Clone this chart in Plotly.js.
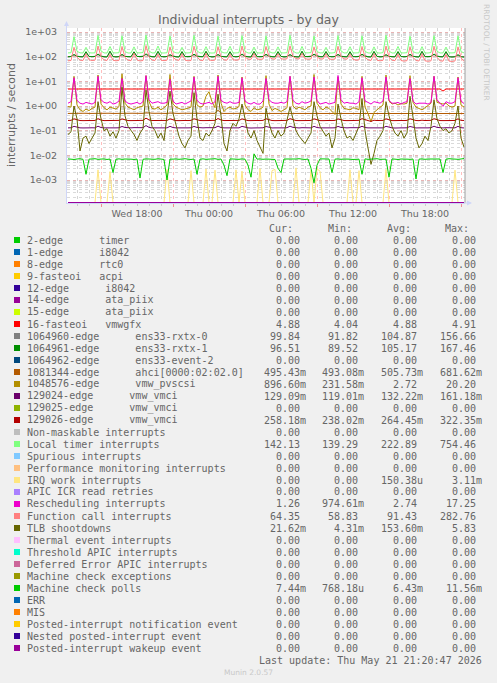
<!DOCTYPE html>
<html><head><meta charset="utf-8">
<script src="https://cdn.plot.ly/plotly-3.0.1.min.js"></script>
<style>html,body{margin:0;padding:0;background:#F0F0F0;overflow:hidden}#chart{width:497px;height:683px}</style>
</head><body><div id="chart"></div>
<script>
// ---------------- data ----------------
const startTime = '2026-05-20T12:15:00Z';   // first 15-minute sample
const stepMinutes = 15;
const zeroTimes = ['2026-05-20 12:15', '2026-05-21 21:15'];
const zeroValues = [0, 0];
const xTickStart = '2026-05-20 00:00';
const xRangeDates = ['2026-05-20 12:10', '2026-05-21 21:20'];
const yTickValues = [1e-3, 1e-2, 1e-1, 1e0, 1e1, 1e2, 1e3];
const yTickLabels = ['1e-03', '1e-02', '1e-01', '1e+00', '1e+01', '1e+02', '1e+03'];

const seriesLabels = [
  '2-edge      timer', '1-edge      i8042', '8-edge      rtc0', '9-fasteoi   acpi',
  '12-edge      i8042', '14-edge      ata_piix', '15-edge      ata_piix', '16-fasteoi   vmwgfx',
  '1064960-edge      ens33-rxtx-0', '1064961-edge      ens33-rxtx-1', '1064962-edge      ens33-event-2',
  '1081344-edge      ahci[0000:02:02.0]', '1048576-edge      vmw_pvscsi',
  '129024-edge      vmw_vmci', '129025-edge      vmw_vmci', '129026-edge      vmw_vmci',
  'Non-maskable interrupts', 'Local timer interrupts', 'Spurious interrupts',
  'Performance monitoring interrupts', 'IRQ work interrupts', 'APIC ICR read retries',
  'Rescheduling interrupts', 'Function call interrupts', 'TLB shootdowns',
  'Thermal event interrupts', 'Threshold APIC interrupts', 'Deferred Error APIC interrupts',
  'Machine check exceptions', 'Machine check polls', 'ERR', 'MIS',
  'Posted-interrupt notification event', 'Nested posted-interrupt event', 'Posted-interrupt wakeup event'
];
const curValues = ['0.00','0.00','0.00','0.00','0.00','0.00','0.00','4.88','99.84','96.51','0.00','495.43m','896.60m','129.09m','0.00','258.18m','0.00','142.13','0.00','0.00','0.00','0.00','1.26','64.35','21.62m','0.00','0.00','0.00','0.00','7.44m','0.00','0.00','0.00','0.00','0.00'];
const minValues = ['0.00','0.00','0.00','0.00','0.00','0.00','0.00','4.04','91.82','89.52','0.00','493.08m','231.58m','119.01m','0.00','238.02m','0.00','139.29','0.00','0.00','0.00','0.00','974.61m','58.83','4.31m','0.00','0.00','0.00','0.00','768.18u','0.00','0.00','0.00','0.00','0.00'];
const avgValues = ['0.00','0.00','0.00','0.00','0.00','0.00','0.00','4.88','104.87','105.17','0.00','505.73m','2.72','132.22m','0.00','264.45m','0.00','222.89','0.00','0.00','150.38u','0.00','2.74','91.43','153.60m','0.00','0.00','0.00','0.00','6.43m','0.00','0.00','0.00','0.00','0.00'];
const maxValues = ['0.00','0.00','0.00','0.00','0.00','0.00','0.00','4.91','156.66','167.46','0.00','681.62m','20.20','161.18m','0.00','322.35m','0.00','754.46','0.00','0.00','3.11m','0.00','17.25','282.76','5.83','0.00','0.00','0.00','0.00','11.56m','0.00','0.00','0.00','0.00','0.00'];

// 15-minute samples, 133 per series
const fasteoi16 = [
  4.88,4.88,4.88,4.88,4.88,4.88,4.88,4.88, 4.88,4.88,4.88,4.88,4.88,4.88,4.88,4.88,
  4.88,4.88,4.88,4.88,4.88,4.88,4.88,4.88, 4.88,4.88,4.88,4.88,4.88,4.88,4.88,4.88,
  4.88,4.88,4.88,4.88,4.88,4.88,4.88,4.88, 4.88,4.88,4.88,4.88,4.88,4.88,4.88,4.88,
  4.88,4.88,4.88,4.88,4.88,4.88,4.88,4.88, 4.88,4.88,4.88,4.88,4.91,4.88,4.88,4.88,
  4.88,4.88,4.88,4.88,4.88,4.88,4.88,4.88, 4.88,4.88,4.88,4.88,4.88,4.88,4.88,4.88,
  4.88,4.88,4.88,4.88,4.88,4.88,4.88,4.88, 4.88,4.88,4.88,4.88,4.88,4.88,4.88,4.88,
  4.88,4.88,4.88,4.88,4.88,4.88,4.88,4.88, 4.88,4.88,4.88,4.88,4.88,4.88,4.88,4.88,
  4.88,4.88,4.88,4.88,4.88,4.88,4.88,4.88, 4.88,4.88,4.88,4.88,4.88,4.04,4.88,4.88,
  4.88,4.88,4.88,4.88,4.88
];
const rxtx0 = [
  100,102,118,104,101,99,150,102, 101,103,120,105,100,98,156,101,
  99,101,117,103,101,100,148,102, 102,104,122,106,101,99,155,100,
  100,102,116,104,100,98,152,101, 101,103,119,105,102,100,156.66,102,
  99,101,118,103,101,99,149,101, 100,103,121,104,100,98,153,100,
  101,102,119,105,101,99,150,102, 99,101,117,103,100,98,155,100,
  102,104,120,106,101,100,151,101, 100,102,118,104,101,99,148,100,
  101,103,119,105,100,98,154,102, 99,101,116,103,101,99,150,101,
  100,102,118,104,100,98,155,100, 101,103,121,105,101,99,149,99,
  98,100,117,101,99.84
];
const rxtx1 = [
  99,101,122,104,100,98,160,101, 100,102,128,105,99,97,167,100,
  98,100,124,103,100,99,158,102, 101,103,130,106,100,98,165,101,
  99,101,120,104,99,97,162,100, 100,102,126,105,101,99,166,102,
  98,100,123,103,100,98,160,101, 99,102,128,104,99,97,164,100,
  100,101,125,105,100,98,161,102, 98,100,122,103,99,97,167.46,100,
  101,103,127,106,100,99,163,101, 99,101,124,104,100,98,160,100,
  100,102,126,105,99,97,165,102, 98,100,121,103,100,98,162,101,
  99,101,125,104,99,97,166,100, 100,102,128,105,100,98,161,99,
  97,99,120,98,96.51
];
const ahci = [
  0.5,0.505,0.52,0.505,0.5,0.505,0.51,0.5, 0.505,0.5,0.52,0.51,0.5,0.505,0.51,0.5,
  0.505,0.5,0.52,0.505,0.5,0.5,0.51,0.505, 0.5,0.505,0.53,0.51,0.5,0.505,0.51,0.5,
  0.505,0.5,0.52,0.505,0.5,0.5,0.51,0.505, 0.5,0.505,0.52,0.51,0.5,0.505,0.51,0.5,
  0.5,0.505,0.68,0.51,0.5,0.505,0.51,0.5, 0.505,0.5,0.52,0.505,0.5,0.5,0.51,0.505,
  0.5,0.505,0.52,0.51,0.5,0.505,0.51,0.5, 0.505,0.5,0.53,0.505,0.5,0.5,0.51,0.505,
  0.5,0.505,0.52,0.51,0.5,0.505,0.51,0.5, 0.505,0.5,0.52,0.505,0.5,0.5,0.51,0.505,
  0.5,0.505,0.52,0.51,0.5,0.505,0.51,0.5, 0.505,0.5,0.52,0.505,0.5,0.5,0.51,0.505,
  0.5,0.505,0.52,0.51,0.5,0.505,0.51,0.5, 0.505,0.5,0.52,0.505,0.5,0.5,0.51,0.505,
  0.5,0.505,0.52,0.5,0.495
];
const pvscsi = [
  0.95,0.9,16,1.1,0.7,0.6,0.75,0.65, 0.8,0.9,18,1.2,0.85,0.7,0.9,0.8,
  0.75,0.95,20.2,1.3,0.9,0.8,0.7,0.85, 0.9,1.0,17,1.5,0.8,0.75,0.9,0.7,
  0.85,1.1,19,1.2,0.9,0.8,0.7,0.75, 0.8,0.9,16,1.1,0.9,1.0,2.5,3.8,
  1.5,0.85,18,1.3,0.6,0.8,0.9,0.75, 0.8,0.95,15,1.1,0.7,0.6,0.85,0.7,
  0.75,0.9,17,1.2,0.65,0.8,0.7,0.6, 0.7,0.85,16,1.0,0.75,0.9,0.8,0.7,
  0.9,1.0,19,1.3,0.85,0.7,0.9,0.8, 0.6,0.45,15,1.2,0.8,0.75,0.7,0.85,
  0.8,0.7,16,0.9,0.5,0.23,0.55,0.7, 0.9,1.1,18,1.6,1.2,1.3,1.1,1.25,
  1.2,1.3,17,1.4,0.9,0.8,0.7,0.85, 1.1,1.3,16,1.4,1.3,1.2,1.3,1.0,
  0.9,1.0,15,1.1,0.8966
];
const vmci129024 = [
  0.13,0.131,0.15,0.135,0.13,0.129,0.133,0.13, 0.131,0.13,0.152,0.134,0.13,0.128,0.132,0.13,
  0.13,0.131,0.148,0.135,0.129,0.13,0.133,0.131, 0.13,0.132,0.161,0.136,0.13,0.129,0.132,0.13,
  0.131,0.13,0.15,0.134,0.13,0.128,0.133,0.13, 0.13,0.131,0.149,0.135,0.129,0.13,0.132,0.131,
  0.13,0.132,0.153,0.134,0.13,0.129,0.133,0.13, 0.131,0.13,0.15,0.135,0.13,0.128,0.132,0.13,
  0.13,0.131,0.148,0.134,0.129,0.13,0.133,0.131, 0.13,0.132,0.152,0.136,0.13,0.129,0.132,0.13,
  0.131,0.13,0.15,0.134,0.13,0.128,0.133,0.13, 0.13,0.131,0.149,0.135,0.129,0.13,0.132,0.131,
  0.13,0.132,0.151,0.134,0.13,0.129,0.133,0.13, 0.131,0.13,0.15,0.135,0.13,0.128,0.132,0.13,
  0.13,0.131,0.148,0.134,0.129,0.13,0.133,0.131, 0.13,0.132,0.152,0.136,0.13,0.129,0.132,0.13,
  0.131,0.13,0.15,0.132,0.129
];
const vmci129026 = [
  0.26,0.262,0.3,0.27,0.258,0.255,0.265,0.258, 0.257,0.26,0.305,0.268,0.256,0.255,0.264,0.259,
  0.258,0.261,0.298,0.27,0.257,0.256,0.266,0.258, 0.26,0.262,0.322,0.272,0.258,0.255,0.264,0.257,
  0.258,0.26,0.3,0.268,0.256,0.255,0.265,0.259, 0.257,0.261,0.302,0.27,0.258,0.256,0.264,0.258,
  0.26,0.262,0.31,0.27,0.257,0.255,0.266,0.258, 0.258,0.26,0.299,0.268,0.256,0.256,0.264,0.259,
  0.257,0.261,0.303,0.27,0.258,0.255,0.265,0.258, 0.26,0.262,0.305,0.272,0.257,0.256,0.264,0.257,
  0.258,0.26,0.3,0.268,0.256,0.255,0.266,0.259, 0.257,0.261,0.298,0.27,0.258,0.256,0.264,0.258,
  0.26,0.262,0.306,0.27,0.257,0.238,0.265,0.258, 0.258,0.26,0.3,0.268,0.256,0.256,0.264,0.259,
  0.257,0.261,0.302,0.27,0.258,0.255,0.266,0.258, 0.26,0.262,0.304,0.272,0.257,0.256,0.264,0.257,
  0.258,0.26,0.3,0.262,0.258
];
const localTimer = [
  142,144,650,165,143,141,240,144, 141,143,720,170,142,140,260,143,
  142,145,700,160,141,141,250,142, 143,147,754,168,142,142,270,141,
  141,144,690,162,143,140,240,142, 142,146,730,170,141,141,255,143,
  140,143,680,160,142,142,265,141, 142,145,710,165,141,140,245,142,
  141,143,700,162,142,141,250,142, 142,145,740,168,141,140,260,143,
  143,146,690,160,142,141,240,141, 141,147,720,170,141,142,255,142,
  142,144,700,163,142,140,250,143, 140,146,745,168,141,141,260,142,
  142,145,680,160,142,140,255,141, 141,147,710,165,141,142,245,142,
  142,145,700,160,142.13
];
const irqWork = [
  0,0,0,0,0,0,0,0, 0,0,0.0026,0,0,0,0.0022,0,
  0,0,0,0,0,0,0,0, 0,0,0,0,0,0,0,0,
  0,0.0027,0,0,0,0,0,0, 0,0.0024,0,0,0,0,0.0028,0,
  0,0.0025,0,0,0,0,0,0, 0.0026,0,0.0023,0,0,0,0,0,
  0.0029,0,0,0,0.0024,0.0027,0,0, 0,0,0,0,0.00311,0,0,0,
  0,0.0025,0,0.0028,0.0023,0,0,0, 0,0,0,0,0,0,0.0026,0,
  0,0.0024,0,0,0,0,0,0, 0,0,0.0027,0,0,0,0,0,
  0,0,0,0,0,0,0,0, 0,0,0,0,0,0,0,0,
  0,0.0025,0,0,0
];
const rescheduling = [
  1.3,1.5,14,1.7,1.3,1.2,1.4,1.3, 1.2,1.4,16,1.8,1.4,1.3,1.5,1.2,
  1.3,1.6,13,1.6,1.3,1.2,1.3,1.4, 1.2,1.5,17,1.8,1.3,1.4,1.5,1.3,
  1.3,1.4,12,1.6,1.2,1.3,1.4,1.2, 1.4,1.6,15,1.7,1.3,1.2,1.3,1.4,
  1.2,1.5,16,1.7,1.4,1.3,1.5,1.3, 1.3,1.4,14,1.6,1.3,1.2,1.4,1.2,
  1.2,1.6,13,1.8,1.4,1.3,1.3,1.4, 1.3,1.5,16,1.7,1.3,1.2,1.5,1.3,
  1.4,1.6,15,1.7,1.2,1.3,1.4,1.2, 1.3,1.4,17.25,1.8,1.3,1.4,1.3,1.3,
  1.2,1.5,14,1.6,1.4,1.2,1.5,1.4, 1.3,1.6,15,1.7,1.3,1.3,1.4,1.2,
  1.4,1.5,13,1.6,1.2,1.3,1.3,1.3, 1.2,1.4,16,1.8,1.3,0.97,1.5,1.3,
  1.3,1.5,14,1.6,1.26
];
const functionCall = [
  68,70,240,95,72,70,130,75, 70,72,270,100,74,70,125,72,
  68,71,260,92,72,69,135,74, 67,70,282.76,98,73,70,128,72,
  69,72,250,95,75,71,130,73, 68,70,265,100,72,70,135,74,
  70,73,255,96,74,72,128,75, 72,75,270,98,80,78,132,80,
  78,80,260,100,82,79,130,81, 80,82,275,102,84,80,135,82,
  79,81,250,98,82,80,130,80, 78,80,265,100,82,79,128,78,
  72,74,260,95,75,70,132,72, 68,71,270,96,72,69,128,70,
  66,69,255,94,70,67,130,68, 65,68,265,95,68,66,125,66,
  64,67,250,90,64.35
];
const tlbShootdowns = [
  0.07,0.09,1.0,0.3,0.015,0.05,0.06,0.03, 0.05,0.08,1.5,0.3,0.1,0.12,0.06,0.09,
  0.05,0.1,5.83,0.4,0.15,0.1,0.07,0.04, 0.08,0.12,4.5,0.6,0.15,0.1,0.05,0.08,
  0.04,0.4,4.0,0.5,0.15,0.06,0.03,0.02, 0.04,0.06,3.5,0.3,0.05,0.04,0.08,0.06,
  0.1,0.2,3.0,0.4,0.03,0.015,0.1,0.2, 0.15,0.3,1.2,0.3,0.08,0.05,0.1,0.04,
  0.02,0.012,0.8,0.2,0.08,0.05,0.1,0.06, 0.08,0.3,0.9,0.3,0.1,0.06,0.04,0.03,
  0.05,0.08,1.5,0.4,0.15,0.1,0.06,0.08, 0.02,0.05,1.2,0.3,0.1,0.05,0.06,0.04,
  0.08,0.15,2.0,0.1,0.02,0.0043,0.012,0.04, 0.06,0.1,1.5,0.4,0.15,0.08,0.06,0.1,
  0.05,0.08,2.5,0.4,0.05,0.02,0.03,0.06, 0.04,0.15,1.8,0.3,0.15,0.1,0.12,0.08,
  0.1,0.2,1.0,0.05,0.0216
];
const mcePolls = [
  0.0072,0.0070,0.0068,0.0071,0.0073,0.0069,0.0017,0.0070, 0.0071,0.0073,0.0069,0.0070,0.0072,0.0068,0.0071,0.0020,
  0.0070,0.0072,0.0069,0.0071,0.0073,0.0070,0.0068,0.0071, 0.0012,0.0069,0.0072,0.0070,0.0071,0.0069,0.0073,0.0070,
  0.0068,0.0010,0.0071,0.0070,0.0072,0.0069,0.0071,0.0073, 0.0070,0.0068,0.0071,0.0017,0.0070,0.0072,0.0069,0.0071,
  0.0070,0.0073,0.0069,0.0071,0.0040,0.0015,0.0072,0.0070, 0.0071,0.0069,0.0072,0.0070,0.0040,0.0013,0.0115,0.0070,
  0.0072,0.0069,0.0071,0.0070,0.0073,0.0068,0.0030,0.0020, 0.0071,0.0070,0.0072,0.0069,0.0071,0.0073,0.0070,0.0068,
  0.0071,0.0030,0.00077,0.0040,0.0072,0.0070,0.0069,0.0071, 0.0020,0.0070,0.0072,0.0069,0.0071,0.0073,0.0070,0.0068,
  0.0071,0.0070,0.0017,0.0072,0.0069,0.0071,0.0070,0.0073, 0.0069,0.0071,0.0070,0.0013,0.0072,0.0070,0.0068,0.0071,
  0.0073,0.0070,0.0069,0.0071,0.0011,0.0070,0.0072,0.0069, 0.0071,0.0070,0.0072,0.0069,0.0071,0.0020,0.0070,0.0073,
  0.0070,0.0072,0.0069,0.0071,0.00744
];

// which legend row each drawn series belongs to (others are flat zero)
const seriesData = {
  7: fasteoi16, 8: rxtx0, 9: rxtx1, 11: ahci, 12: pvscsi, 13: vmci129024, 15: vmci129026,
  17: localTimer, 20: irqWork, 22: rescheduling, 23: functionCall, 24: tlbShootdowns, 29: mcePolls
};

// ---------------- styles ----------------
const seriesColors = ['#00CC00','#0066B3','#FF8000','#FFCC00','#330099','#990099','#CCFF00','#FF0000',
  '#808080','#008F00','#00487D','#B35A00','#B38F00','#6B006B','#8FB300','#B30000','#BEBEBE','#80FF80',
  '#80C9FF','#FFC080','#FFE680','#AA80FF','#EE00CC','#FF8080','#666600','#FFBFFF','#00FFCC','#CC6699',
  '#999900','#00CC00','#0066B3','#FF8000','#FFCC00','#330099','#990099'];
const FONT = '#666666', AXIS = '#CFD6F8';
const W = 497, H = 683, L = 67, R = 465, T = 28, B = 203;
const yRange = [-3.932, 3.162];
const decadePx = (B - T) / (yRange[1] - yRange[0]);
const floorVal = Math.pow(10, yRange[0] + 0.5 / decadePx);
const px2x = px => (px - L) / (R - L);
const py2y = py => (B - py) / (B - T);
const nb = s => s.replace(/ /g, '\u00a0');

const t0 = Date.parse(startTime);
function timesFor(n) {
  const out = [];
  for (let i = 0; i < n; i++) out.push(new Date(t0 + i * stepMinutes * 60000).toISOString().slice(0, 19).replace('T', ' '));
  return out;
}

const traces = [];
seriesLabels.forEach((lab, k) => {
  const vals = seriesData[k] || zeroValues;
  const xs = seriesData[k] ? timesFor(vals.length) : zeroTimes;
  traces.push({
    x: xs, y: vals.map(v => v > 0 ? v : floorVal), type: 'scatter', mode: 'lines',
    line: {color: seriesColors[k], width: 1}, hoverinfo: 'skip', showlegend: false
  });
});
// carrier for the label axis
traces.push({x: [zeroTimes[0]], y: [null], xaxis: 'x2', yaxis: 'y', type: 'scatter', mode: 'lines', showlegend: false, hoverinfo: 'skip'});

// ---------------- legend table ----------------
const annotations = [];
const shapes = [];
const monoFont = {family: 'DejaVu Sans Mono', size: 10, color: FONT};
const colRight = [306.7, 365.3, 424, 482.7];
const headers = ['Cur:', 'Min:', 'Avg:', 'Max:'];
headers.forEach((h, c) => annotations.push({xref: 'paper', yref: 'paper', x: px2x(colRight[c] - 12.5), y: py2y(228.5),
  text: h, showarrow: false, xanchor: 'right', yanchor: 'middle', font: monoFont, borderpad: 0}));
const cols = [curValues, minValues, avgValues, maxValues];
seriesLabels.forEach((lab, k) => {
  const yc = 240 + 12 * k;
  shapes.push({type: 'rect', xref: 'paper', yref: 'paper', x0: px2x(14), x1: px2x(20), y0: py2y(yc + 3), y1: py2y(yc - 3),
    fillcolor: seriesColors[k], line: {width: 0}, layer: 'above'});
  annotations.push({xref: 'paper', yref: 'paper', x: px2x(26), y: py2y(yc), text: nb(lab), showarrow: false,
    xanchor: 'left', yanchor: 'middle', font: monoFont, borderpad: 0});
  cols.forEach((col, c) => {
    const s = col[k];
    const hasUnit = /[a-z]$/.test(s);
    annotations.push({xref: 'paper', yref: 'paper', x: px2x(colRight[c] - (hasUnit ? 0 : 6)), y: py2y(yc), text: s,
      showarrow: false, xanchor: 'right', yanchor: 'middle', font: monoFont, borderpad: 0});
  });
});
annotations.push({xref: 'paper', yref: 'paper', x: px2x(482.7), y: py2y(660), text: nb('Last update: Thu May 21 21:20:47 2026'),
  showarrow: false, xanchor: 'right', yanchor: 'middle', font: monoFont, borderpad: 0});
annotations.push({xref: 'paper', yref: 'paper', x: px2x(248), y: py2y(672), text: 'Munin 2.0.57',
  showarrow: false, xanchor: 'center', yanchor: 'middle', font: {family: 'DejaVu Sans', size: 7.5, color: '#C8C8C8'}, borderpad: 0});
// titles
annotations.push({xref: 'paper', yref: 'paper', x: px2x(248.5), y: py2y(19.5), text: 'Individual interrupts - by day',
  showarrow: false, xanchor: 'center', yanchor: 'middle', font: {family: 'DejaVu Sans', size: 12.5, color: FONT}, borderpad: 0});
annotations.push({xref: 'paper', yref: 'paper', x: px2x(11), y: py2y(115), text: 'interrupts / second', textangle: -90,
  showarrow: false, xanchor: 'center', yanchor: 'middle', font: {family: 'DejaVu Sans', size: 11, color: FONT}, borderpad: 0});
annotations.push({xref: 'paper', yref: 'paper', x: px2x(487), y: py2y(53), text: 'RRDTOOL / TOBI OETIKER', textangle: 90,
  showarrow: false, xanchor: 'center', yanchor: 'middle', font: {family: 'DejaVu Sans', size: 7.5, color: '#C8C8C8'}, borderpad: 0});
// axis arrows
annotations.push({xref: 'paper', yref: 'paper', x: px2x(66.5), y: py2y(21), ax: 0, ay: 9, text: '', showarrow: true,
  arrowhead: 2, arrowsize: 1, arrowwidth: 1, arrowcolor: AXIS});
annotations.push({xref: 'paper', yref: 'paper', x: px2x(472), y: py2y(203), ax: -9, ay: 0, text: '', showarrow: true,
  arrowhead: 2, arrowsize: 1, arrowwidth: 1, arrowcolor: AXIS});
// right frame line
shapes.push({type: 'line', xref: 'paper', yref: 'paper', x0: 1, x1: 1, y0: 0, y1: 1, line: {color: '#A0A0A0', width: 1}, layer: 'above'});

const layout = {
  width: W, height: H, margin: {l: L, r: W - R, t: T, b: H - B, pad: 0},
  paper_bgcolor: '#F0F0F0', plot_bgcolor: '#FFFFFF', showlegend: false, hovermode: false,
  font: {family: 'DejaVu Sans', color: FONT, size: 9},
  xaxis: {
    type: 'date', range: xRangeDates, tickmode: 'linear', tick0: '2026-05-20 15:00', dtick: 6 * 3600000,
    showticklabels: false, showgrid: true, gridcolor: 'rgba(255,110,110,0.45)', griddash: 'dot', gridwidth: 1,
    ticks: 'outside', ticklen: 3, tickcolor: 'rgba(240,120,120,0.8)',
    minor: {dtick: 3600000, showgrid: true, gridcolor: '#D4D4D4', griddash: 'dot', gridwidth: 1, ticks: 'outside', ticklen: 2, tickcolor: '#CCCCCC'},
    showline: true, linecolor: AXIS, linewidth: 1, zeroline: false, fixedrange: true
  },
  xaxis2: {
    type: 'date', overlaying: 'x', matches: 'x', side: 'bottom', range: xRangeDates,
    tickmode: 'linear', tick0: xTickStart, dtick: 6 * 3600000, tickformat: '%a %H:%M',
    showgrid: false, ticks: '', showline: false, zeroline: false,
    tickfont: {family: 'DejaVu Sans', size: 9.5, color: FONT}, ticklabelstandoff: 3
  },
  yaxis: {
    type: 'log', range: yRange, tickmode: 'array', tickvals: yTickValues, ticktext: yTickLabels,
    showgrid: true, gridcolor: 'rgba(255,110,110,0.35)', griddash: 'dot', gridwidth: 1,
    minor: {dtick: 'D1', showgrid: true, gridcolor: '#DADADA', griddash: 'dot', gridwidth: 1, ticks: ''},
    ticks: '', ticklabelstandoff: 7, tickfont: {family: 'DejaVu Sans', size: 9.5, color: FONT},
    showline: true, linecolor: AXIS, linewidth: 1, zeroline: false, fixedrange: true
  },
  annotations: annotations, shapes: shapes
};
Plotly.newPlot('chart', traces, layout, {staticPlot: true, displayModeBar: false});
</script>
</body></html>
